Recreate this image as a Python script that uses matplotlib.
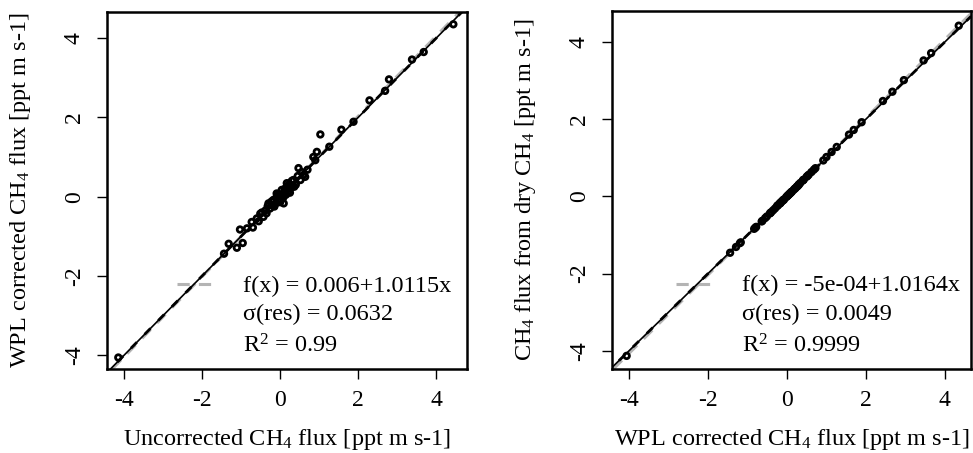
import matplotlib.pyplot as plt

plt.rcParams["font.family"] = ["Liberation Serif", "DejaVu Serif"]
plt.rcParams["mathtext.fontset"] = "custom"
plt.rcParams["mathtext.rm"] = "Liberation Serif"
plt.rcParams["mathtext.it"] = "Liberation Serif:italic"
plt.rcParams["axes.unicode_minus"] = False

# uncorrected vs WPL corrected flux (left panel)
uncorr = [-4.15, -1.44, -1.32, -1.11, -0.96, -1.03, -0.85, -0.73, -0.60, -0.51,
          -0.43, -0.38, -0.30, -0.26, -0.20, -0.17, -0.12, -0.09, -0.05, 0.00,
          0.02, 0.04, 0.08, 0.09, 0.12, 0.15, 0.17, 0.20, 0.26, 0.30,
          0.34, 0.40, 0.47, 0.52, 0.60, 0.64, 0.70, 0.85, 0.90, 0.94,
          1.03, 1.26, 1.57, 1.88, 2.29, 2.69, 2.79, 3.38, 3.68, 4.44,
          -0.70, -0.55, -0.35, -0.15, 0.05, 0.25, 0.10, -0.02, 0.30, 0.55,
          -0.22, -0.08, 0.00, 0.14, 0.22, -0.32, 0.36, 0.45, -0.47, 0.18]
wpl = [-4.06, -1.44, -1.19, -1.29, -1.17, -0.83, -0.80, -0.64, -0.55, -0.43,
       -0.51, -0.35, -0.17, -0.30, -0.22, -0.08, -0.18, 0.08, -0.10, -0.08,
       0.05, 0.17, -0.02, -0.17, 0.20, 0.05, 0.34, 0.12, 0.21, 0.28,
       0.42, 0.30, 0.72, 0.42, 0.55, 0.50, 0.68, 1.00, 0.92, 1.13,
       1.57, 1.26, 1.69, 1.89, 2.43, 2.67, 2.96, 3.46, 3.65, 4.35,
       -0.78, -0.62, -0.42, -0.25, 0.00, 0.10, 0.12, 0.02, 0.40, 0.62,
       -0.12, 0.02, -0.14, 0.08, 0.30, -0.24, 0.25, 0.52, -0.40, 0.26]
# flux from dry CH4 (right panel, x = wpl)
dry = [-4.13, -1.46, -1.21, -1.31, -1.19, -0.84, -0.81, -0.65, -0.56, -0.44,
       -0.52, -0.36, -0.17, -0.31, -0.22, -0.08, -0.18, 0.08, -0.10, -0.09,
       0.05, 0.17, -0.02, -0.18, 0.20, 0.05, 0.35, 0.12, 0.21, 0.28,
       0.43, 0.30, 0.73, 0.43, 0.56, 0.51, 0.69, 1.02, 0.93, 1.15,
       1.60, 1.28, 1.72, 1.92, 2.47, 2.71, 3.01, 3.52, 3.71, 4.42,
       -0.79, -0.63, -0.43, -0.25, 0.00, 0.10, 0.12, 0.02, 0.41, 0.63,
       -0.12, 0.02, -0.14, 0.08, 0.31, -0.24, 0.25, 0.53, -0.41, 0.26]

fits = [(0.006, 1.0115), (-5e-04, 1.0164)]
fit_text = [
    ["f(x) = 0.006+1.0115x", "\u03c3(res) = 0.0632", "R$^2$ = 0.99"],
    ["f(x) = -5e-04+1.0164x", "\u03c3(res) = 0.0049", "R$^2$ = 0.9999"],
]
ticks = [-4, -2, 0, 2, 4]

fig = plt.figure(figsize=(9.73, 4.53), dpi=100)
ax1 = fig.add_axes([107 / 973, 84 / 453, 360 / 973, 357 / 453])
ax2 = fig.add_axes([612 / 973, 84 / 453, 359 / 973, 358 / 453])

panels = [
    (ax1, uncorr, wpl, (-4.44, 4.79), (-4.35, 4.66),
     "Uncorrected CH$_4$ flux [ppt m s-1]", "WPL corrected CH$_4$ flux [ppt m s-1]",
     0.378, 0.194, 0.30),
    (ax2, wpl, dry, (-4.43, 4.66), (-4.47, 4.80),
     "WPL corrected CH$_4$ flux [ppt m s-1]", "CH$_4$ flux from dry CH$_4$ [ppt m s-1]",
     0.361, 0.178, 0.283),
]

grey = "#b4b4b4"
for i, (ax, x, y, xl, yl, xlab, ylab, tx, lx0, lx1) in enumerate(panels):
    a, b = fits[i]
    ax.scatter(x, y, s=16, facecolors="none", edgecolors="black", linewidths=2.0, zorder=3)
    ax.axline((0, a), slope=b, color=grey, lw=2.2, ls=(0, (4, 3)), zorder=2)
    ax.axline((0, 0), slope=1, color="black", lw=1.2, zorder=4)
    ax.axline((0, 0), slope=1, color="black", lw=2.0, ls=(3.5, (3, 4)), zorder=4)
    ax.set_xlim(*xl)
    ax.set_ylim(*yl)
    ax.set_xticks(ticks)
    ax.set_yticks(ticks)
    ax.tick_params(direction="out", length=7, width=1, labelsize=17, pad=8)
    ax.tick_params(axis="y", labelrotation=90, pad=9)
    for lab in ax.get_yticklabels():
        lab.set_va("center")
    for s in ax.spines.values():
        s.set_linewidth(1.8)
    ax.set_xlabel(xlab, fontsize=17.5, labelpad=12)
    ax.set_ylabel(ylab, fontsize=17.5, labelpad=22)

    # legend-like sample of the fit line
    ax.plot([lx0, lx1], [0.237, 0.237], transform=ax.transAxes, color=grey,
            lw=2.2, ls=(0, (4, 3)))
    for j, line in enumerate(fit_text[i]):
        ax.text(tx, [0.232, 0.153, 0.065][j], line, transform=ax.transAxes,
                fontsize=17.5, va="center", ha="left")

fig.savefig("out.png", dpi=100)
